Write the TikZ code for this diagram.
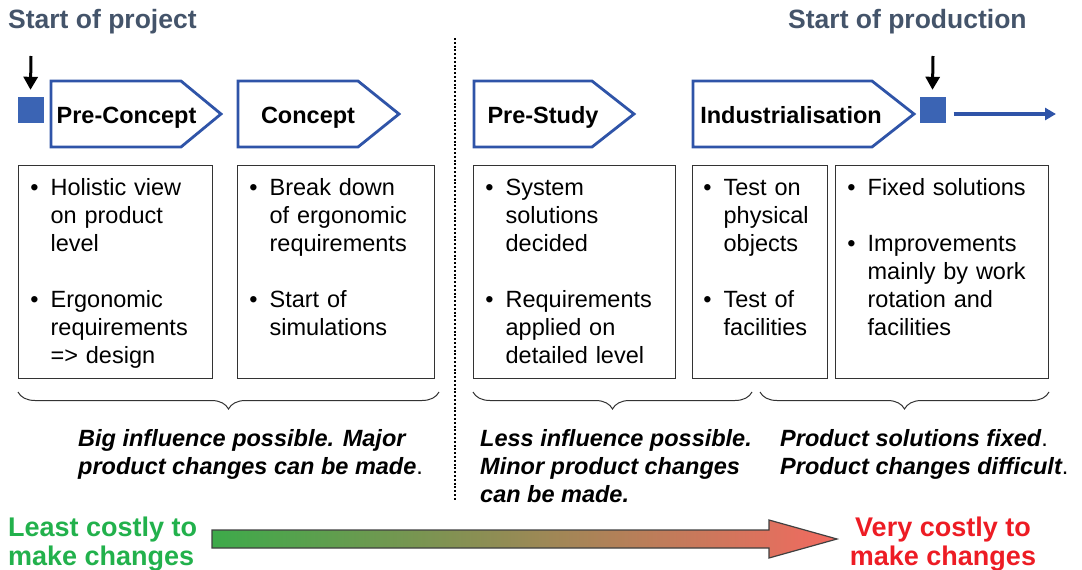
\documentclass[tikz,border=0pt]{standalone}
\usepackage{fontspec}
\setmainfont{Liberation Sans}
\usetikzlibrary{positioning, arrows.meta, decorations.pathreplacing, calc}
\definecolor{phaseblue}{RGB}{47,84,168}
\definecolor{msblue}{RGB}{59,100,180}
\definecolor{titlegray}{RGB}{68,84,106}
\definecolor{cheapgreen}{RGB}{34,177,76}
\definecolor{dearred}{RGB}{237,28,36}
\definecolor{gradgreen}{RGB}{61,170,74}
\definecolor{gradred}{RGB}{242,106,96}
\newcommand{\bul}{\leavevmode\llap{\textbullet\hspace{12pt}}}
\tikzset{
    toptitle/.style={font=\fontsize{26.5}{30}\selectfont\bfseries, text=titlegray, inner sep=0pt, anchor=base west},
    phaseline/.style={draw=phaseblue, line width=2.8pt, fill=white, line join=miter},
    phaselbl/.style={font=\fontsize{23.5}{28}\selectfont\bfseries, inner sep=0pt, anchor=base},
    milestone/.style={rectangle, fill=msblue, minimum size=26pt, inner sep=0pt},
    msarr/.style={-{Triangle[length=13pt, width=14pt]}, line width=3pt, draw=black},
    flowarr/.style={-{Triangle[length=11pt, width=12pt]}, line width=3.5pt, draw=phaseblue},
    infobox/.style={draw=black!80, line width=1.3pt, anchor=north west, inner xsep=10pt, inner ysep=13pt, align=left, text height=17pt, text depth=170pt, font=\fontsize{23.5}{28}\selectfont},
    sepline/.style={line width=2.6pt, dash pattern=on 2pt off 1.8pt},
    stage/.style={decorate, decoration={brace, mirror, amplitude=17pt}, draw=black!80, line width=1pt},
    remark/.style={font=\fontsize{23.5}{28}\selectfont\bfseries\itshape, align=left, anchor=north west, inner sep=0pt},
    costlbl/.style={font=\fontsize{27}{29}\selectfont\bfseries, inner sep=0pt},
    costarrow/.style={left color=gradgreen, right color=gradred, draw=black!75, line width=1.2pt}
}
\begin{document}
\begin{tikzpicture}[x=1pt, y=-1pt]
    \useasboundingbox (0,0) rectangle (1082,570);
    % milestones
    \node[toptitle] (tproj) at (8,28) {Start of project};
    \node[toptitle] (tprod) at (788,28) {Start of production};
    \node[milestone] (sopj) at (30.5,110) {};
    \node[milestone] (sopd) at (932.5,110) {};
    \coordinate (sopjin) at (31,56);
    \coordinate (sopdin) at (933,56);
    \coordinate (prodend) at (1056,114);
    \draw[msarr] (sopjin) -- ([yshift=7pt]sopj.north);
    \draw[msarr] (sopdin) -- ([yshift=7pt]sopd.north);
    \draw[flowarr] ([xshift=8pt, yshift=-4pt]sopd.east) -- (prodend);
    % phases
    \draw[phaseline] (51,81) -- (181,81) -- (221,114) -- (181,147) -- (51,147) -- cycle;
    \draw[phaseline] (238,81) -- (358,81) -- (399,114) -- (358,147) -- (238,147) -- cycle;
    \draw[phaseline] (474,81) -- (592,81) -- (634,114) -- (592,147) -- (474,147) -- cycle;
    \draw[phaseline] (693,81) -- (872,81) -- (914,114) -- (872,147) -- (693,147) -- cycle;
    \node[phaselbl] (precon) at (126.5,123) {Pre-Concept};
    \node[phaselbl] (concept) at (308,123) {Concept};
    \node[phaselbl] (prestudy) at (543,123) {Pre-Study};
    \node[phaselbl] (indus) at (791,123) {Industrialisation};
    % activities
    \node[infobox, text width=174pt] (act1) at (18,165) {\leftskip=22pt
        \bul Holistic view\\ on product\\ level\\[28pt]
        \bul Ergonomic\\ requirements\\ => design\par};
    \node[infobox, text width=177pt] (act2) at (237,165) {\leftskip=22pt
        \bul Break down\\ of ergonomic\\ requirements\\[28pt]
        \bul Start of\\ simulations\par};
    \node[infobox, text width=182pt] (act3) at (473,165) {\leftskip=22pt
        \bul System\\ solutions\\ decided\\[28pt]
        \bul Requirements\\ applied on\\ detailed level\par};
    \node[infobox, text width=115pt] (act4) at (692,165) {\leftskip=21pt
        \bul Test on\\ physical\\ objects\\[28pt]
        \bul Test of\\ facilities\par};
    \node[infobox, text width=193pt] (act5) at (835,165) {\leftskip=22pt
        \bul Fixed solutions\\[28pt]
        \bul Improvements\\ mainly by work\\ rotation and\\ facilities\par};
    % separator
    \coordinate (septop) at (455,38);
    \coordinate (sepbot) at (455,500);
    \draw[sepline] (septop) -- (sepbot);
    % influence
    \draw[stage] (18,392) -- (439,392);
    \draw[stage] (473,392) -- (752,392);
    \draw[stage] (760,392) -- (1049,392);
    \node[remark] (rem1) at (78,429) {Big influence possible. Major\\product changes can be made{\mdseries\upshape .}};
    \node[remark] (rem2) at (480,429) {Less influence possible.\\Minor product changes\\can be made.};
    \node[remark] (rem3) at (780,429) {Product solutions fixed{\mdseries\upshape .}\\Product changes difficult{\mdseries\upshape .}};
    % cost
    \node[costlbl, text=cheapgreen, align=left, anchor=north west] (cheap) at (8,517) {Least costly to\\make changes};
    \node[costlbl, text=dearred, align=center, anchor=north] (dear) at (943,517) {Very costly to\\make changes};
    \path[costarrow] (212,530) -- (769,530) -- (769,520) -- (837,539) -- (769,558) -- (769,548) -- (212,548) -- cycle;
\end{tikzpicture}
\end{document}
